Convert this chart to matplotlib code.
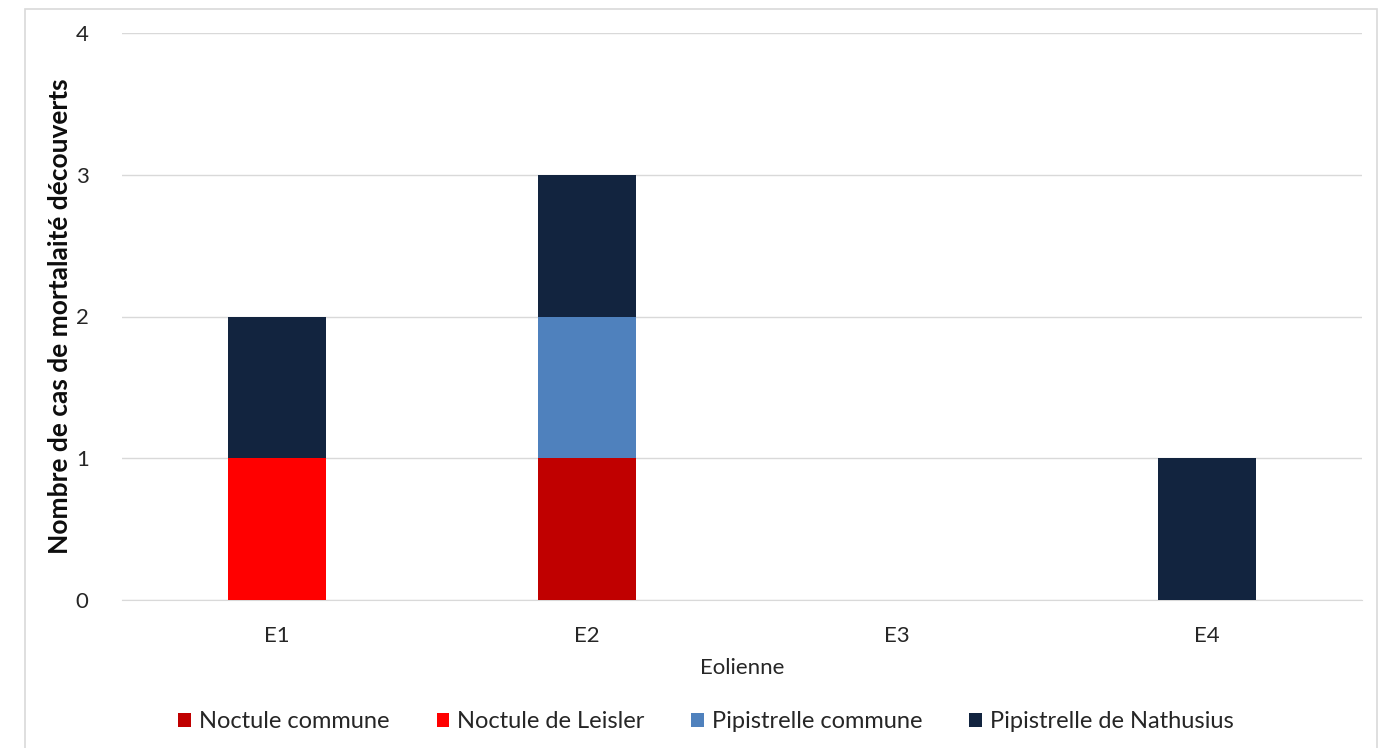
import matplotlib
matplotlib.use("Agg")
import matplotlib.pyplot as plt
from matplotlib.patches import Rectangle, Patch
import numpy as np

categories = ["E1", "E2", "E3", "E4"]
series_names = ["Noctule commune", "Noctule de Leisler", "Pipistrelle commune", "Pipistrelle de Nathusius"]
noctule_commune = [0, 1, 0, 0]
noctule_leisler = [1, 0, 0, 0]
pipistrelle_commune = [0, 1, 0, 0]
pipistrelle_nathusius = [1, 1, 0, 1]
colors = ["#C00000", "#FF0000", "#4F81BD", "#12243F"]
y_ticks = [0, 1, 2, 3, 4]

plt.rcParams['font.family'] = ['Lato', 'DejaVu Sans']

W, H = 1382, 748
fig = plt.figure(figsize=(W / 100, H / 100), dpi=100)
fig.patches.append(Rectangle((25 / W, -0.01), (1377 - 25) / W, 1 - 9 / H + 0.01,
                             transform=fig.transFigure, fill=False,
                             edgecolor="#D9D9D9", linewidth=1.2, zorder=0))
ax = fig.add_axes([122 / W, 1 - 600 / H, (1362 - 122) / W, (600 - 33) / H])

x = np.arange(len(categories))
bottom = np.zeros(len(categories))
series = [noctule_commune, noctule_leisler, pipistrelle_commune, pipistrelle_nathusius]
for name, vals, c in zip(series_names, series, colors):
    ax.bar(x, vals, width=0.313, bottom=bottom, color=c, label=name, zorder=3)
    bottom += np.array(vals)

ax.set_xlim(-0.5, len(categories) - 0.5)
ax.set_ylim(0, 4)
ax.set_yticks(y_ticks)
ax.set_xticks(x)
ax.set_xticklabels(categories)
ax.grid(axis="y", color="#D9D9D9", linewidth=1, zorder=0)
for s in ["top", "right", "left"]:
    ax.spines[s].set_visible(False)
ax.spines["bottom"].set_color("#D9D9D9")
ax.tick_params(axis="both", length=0, labelsize=16, colors="#262626")
ax.tick_params(axis="y", pad=24)
ax.tick_params(axis="x", pad=19)
ax.set_xlabel("Eolienne", fontsize=16, color="#262626", labelpad=8)
ax.set_ylabel("Nombre de cas de mortalaité découverts", fontsize=19, fontweight="bold",
              color="#0D0D0D", va="center")
ax.yaxis.set_label_coords((60 - 122) / (1362 - 122), 0.5)

handles = [Patch(facecolor=c, label=n) for n, c in zip(series_names, colors)]
fig.legend(handles=handles, loc="center", bbox_to_anchor=(706 / W, 1 - 722 / H),
           ncol=4, frameon=False, fontsize=17, handlelength=0.52, handleheight=0.52,
           handletextpad=0.34, columnspacing=2.0, labelcolor="#262626")

fig.savefig("out.png", dpi=100)
